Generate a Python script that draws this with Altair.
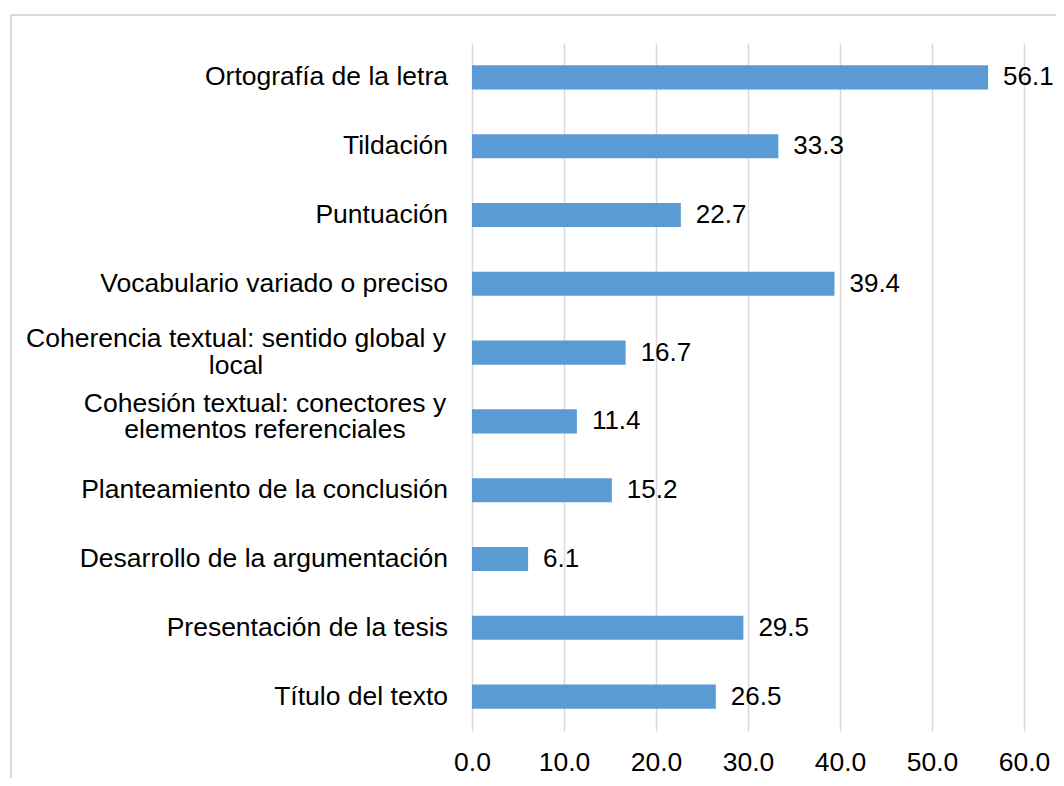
import altair as alt
import pandas as pd

categories = [
    "Ortografía de la letra",
    "Tildación",
    "Puntuación",
    "Vocabulario variado o preciso",
    "Coherencia textual: sentido global y local",
    "Cohesión textual: conectores y elementos referenciales",
    "Planteamiento de la conclusión",
    "Desarrollo de la argumentación",
    "Presentación de la tesis",
    "Título del texto",
]
values = [56.1, 33.3, 22.7, 39.4, 16.7, 11.4, 15.2, 6.1, 29.5, 26.5]
display_labels = [
    "Ortografía de la letra",
    "Tildación",
    "Puntuación",
    "Vocabulario variado o preciso",
    "Coherencia textual: sentido global y\nlocal",
    "Cohesión textual: conectores y\nelementos referenciales",
    "Planteamiento de la conclusión",
    "Desarrollo de la argumentación",
    "Presentación de la tesis",
    "Título del texto",
]
x_ticks = [0, 10, 20, 30, 40, 50, 60]

FONT = "Liberation Sans"
LABEL_SIZE = 26.5
df = pd.DataFrame({"cat": categories, "val": values, "label": display_labels})

y_enc = alt.Y(
    "cat:N",
    sort=categories,
    axis=None,
    scale=alt.Scale(paddingInner=0.65, paddingOuter=0.325),
)

base = alt.Chart(df)

bars = base.mark_bar(color="#5B9BD5").encode(
    y=y_enc,
    x=alt.X(
        "val:Q",
        scale=alt.Scale(domain=[0, 60], nice=False),
        axis=alt.Axis(
            values=x_ticks,
            format=".1f",
            title=None,
            grid=True,
            gridColor="#d9d9d9",
            gridWidth=1.5,
            domain=False,
            ticks=False,
            labelFlush=False,
            labelOverlap=False,
            labelFont=FONT,
            labelFontSize=LABEL_SIZE,
            labelColor="#000000",
            labelPadding=18,
        ),
    ),
)

value_labels = base.mark_text(
    align="left", baseline="middle", dx=15, font=FONT, fontSize=26, color="#000000"
).encode(y=y_enc, x="val:Q", text=alt.Text("val:Q", format=".1f"))

single = base.transform_filter(
    "indexof(datum.label, '\\n') < 0"
).mark_text(
    align="right", baseline="middle", font=FONT, fontSize=LABEL_SIZE, color="#000000"
).encode(y=y_enc, x=alt.value(-24), text="label:N")

coher = base.transform_filter(
    alt.datum.cat == categories[4]
).mark_text(
    align="center", baseline="middle", font=FONT, fontSize=LABEL_SIZE, color="#000000",
    lineBreak="\n", lineHeight=26.5, dy=-13.5,
).encode(y=y_enc, x=alt.value(-236), text="label:N")

cohes = base.transform_filter(
    alt.datum.cat == categories[5]
).mark_text(
    align="center", baseline="middle", font=FONT, fontSize=LABEL_SIZE, color="#000000",
    lineBreak="\n", lineHeight=26, dy=-17,
).encode(y=y_enc, x=alt.value(-207), text="label:N")

frame_df = pd.DataFrame({"k": [0]})
left_border = alt.Chart(frame_df).mark_rule(color="#d9d9d9", strokeWidth=2).encode(
    x=alt.value(-461), y=alt.value(-28), y2=alt.value(740)
)
top_border = alt.Chart(frame_df).mark_rule(color="#d9d9d9", strokeWidth=2).encode(
    x=alt.value(-461), x2=alt.value(600), y=alt.value(-28)
)

chart = (
    alt.layer(left_border, top_border, bars, value_labels, single, coher, cohes)
    .properties(
        width=552,
        height=688,
        autosize=alt.AutoSizeParams(type="none"),
        padding={"left": 464, "top": 35, "right": 32, "bottom": 47},
        background="#ffffff",
    )
    .configure_view(stroke=None)
)

chart.save("out.html", embed_options={"renderer": "svg", "actions": False})
